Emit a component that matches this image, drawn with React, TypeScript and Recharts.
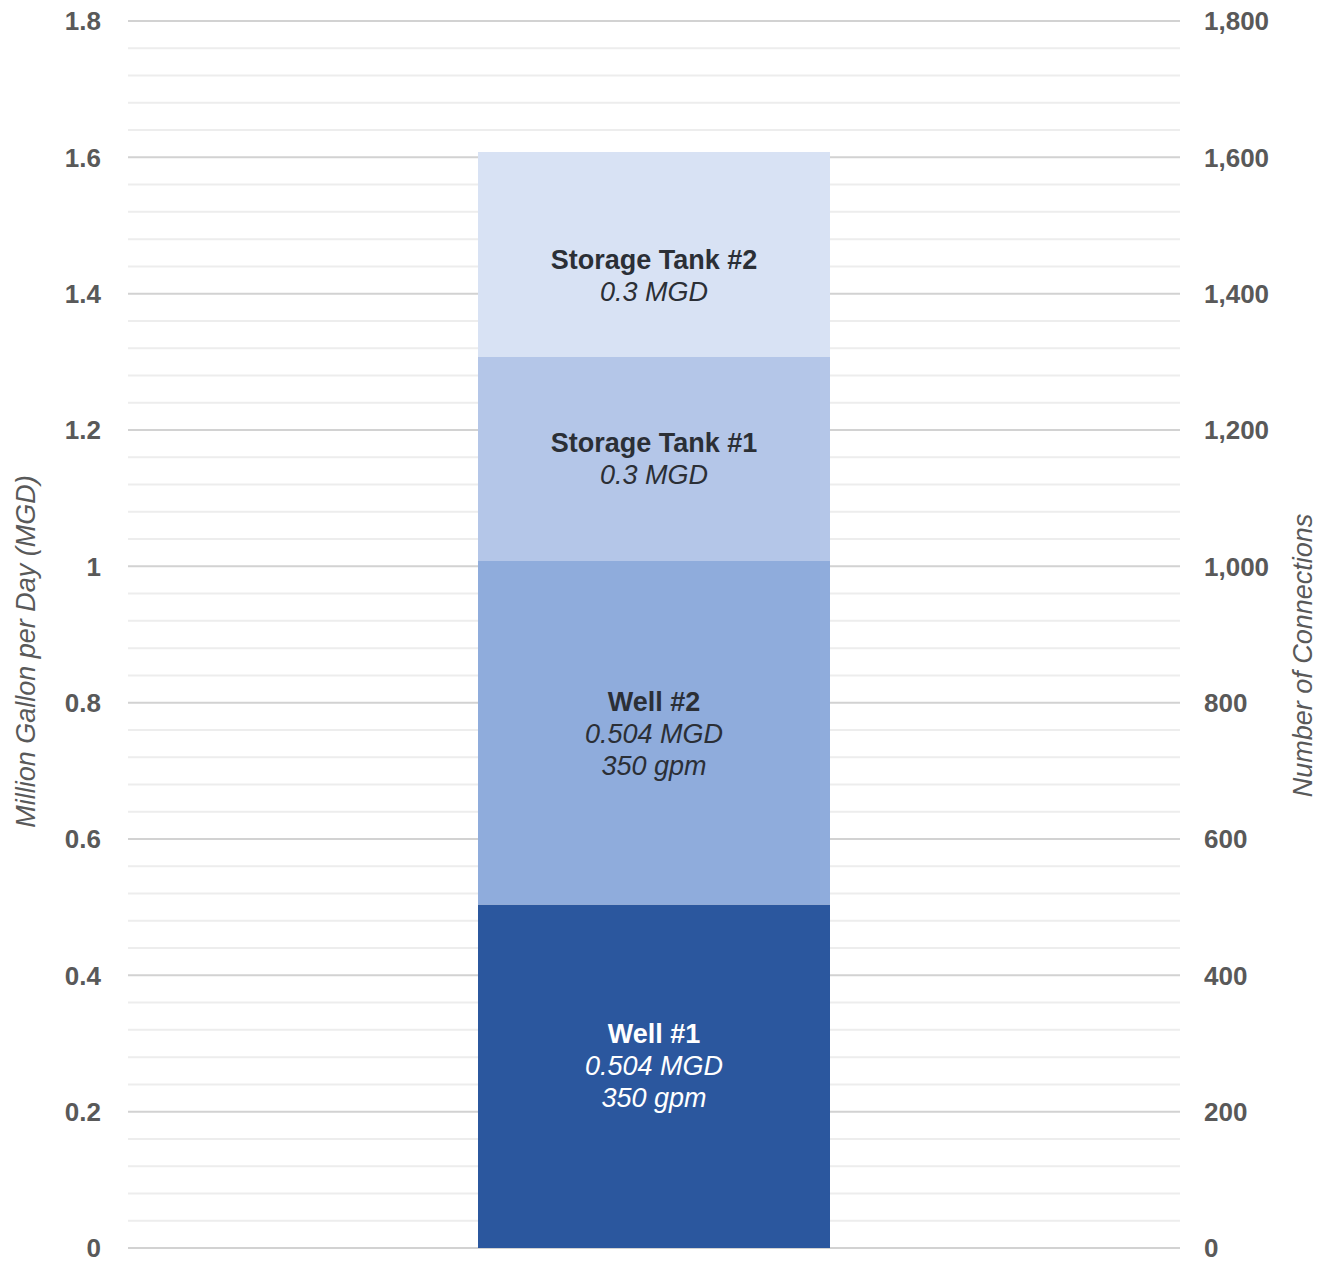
import React from "react";
import { BarChart, Bar, XAxis, YAxis, CartesianGrid, LabelList } from "recharts";

if (typeof document !== "undefined") {
  document.body.style.margin = "0";
}

const categories = ["Supply"];
const seriesNames = ["Well #1", "Well #2", "Storage Tank #1", "Storage Tank #2"];
const seriesKeys = ["well1", "well2", "tank1", "tank2"];
const seriesValues = [0.504, 0.504, 0.3, 0.3];
const seriesGpm = ["350 gpm", "350 gpm", "", ""];
const leftTicks = [0, 0.2, 0.4, 0.6, 0.8, 1, 1.2, 1.4, 1.6, 1.8];
const rightTicks = [0, 200, 400, 600, 800, 1000, 1200, 1400, 1600, 1800];
const minorTicks = [
  0.04, 0.08, 0.12, 0.16, 0.24, 0.28, 0.32, 0.36, 0.44, 0.48, 0.52, 0.56,
  0.64, 0.68, 0.72, 0.76, 0.84, 0.88, 0.92, 0.96, 1.04, 1.08, 1.12, 1.16,
  1.24, 1.28, 1.32, 1.36, 1.44, 1.48, 1.52, 1.56, 1.64, 1.68, 1.72, 1.76,
];

const data = categories.map((name) => {
  const row: any = { name };
  seriesKeys.forEach((k, i) => (row[k] = seriesValues[i]));
  row.connections = null;
  return row;
});

const colors = ["#2B579E", "#8FACDC", "#B4C6E8", "#D8E2F4"];
const textColors = ["#FFFFFF", "#2B2F36", "#2B2F36", "#2B2F36"];
const labelShift = [-10, 1, 0, 22];

const FONT = "'Liberation Sans', Arial, Helvetica, sans-serif";

const makeLabel = (i: number) => (props: any) => {
  const { x, y, width, height } = props;
  const cx = Number(x) + Number(width) / 2;
  const cy = Number(y) + Number(height) / 2 + labelShift[i];
  const lines: { t: string; bold: boolean }[] = [
    { t: seriesNames[i], bold: true },
    { t: `${seriesValues[i]} MGD`, bold: false },
  ];
  if (seriesGpm[i]) lines.push({ t: seriesGpm[i], bold: false });
  const lh = 32;
  const n = lines.length;
  return (
    <g>
      {lines.map((l, j) => (
        <text
          key={j}
          x={cx}
          y={cy + (j - (n - 1) / 2) * lh}
          textAnchor="middle"
          dominantBaseline="central"
          fill={textColors[i]}
          fontFamily={FONT}
          fontSize={27}
          fontWeight={l.bold ? 700 : 400}
          fontStyle={l.bold ? "normal" : "italic"}
        >
          {l.t}
        </text>
      ))}
    </g>
  );
};

const fmtRight = (v: number) => v.toLocaleString("en-US");
const fmtLeft = (v: number) => String(v);

const tickStyle = { fill: "#595959", fontSize: 26, fontWeight: 700, fontFamily: FONT };

export default function App() {
  return (
    <div style={{ width: 1318, height: 1262, background: "#fff" }}>
      <BarChart
        width={1318}
        height={1262}
        data={data}
        barGap={0}
        margin={{ top: 21, right: 0, bottom: 14, left: 0 }}
      >
        <CartesianGrid
          yAxisId="left"
          vertical={false}
          horizontalValues={minorTicks}
          stroke="#EDEDED"
          strokeWidth={2}
        />
        <CartesianGrid
          yAxisId="left"
          vertical={false}
          stroke="#D2D2D2"
          strokeWidth={2}
        />
        <XAxis dataKey="name" hide />
        <YAxis
          yAxisId="left"
          orientation="left"
          width={128}
          domain={[0, 1.8]}
          ticks={leftTicks}
          interval={0}
          tickFormatter={fmtLeft}
          axisLine={false}
          tickLine={false}
          tickSize={0}
          tickMargin={27}
          tick={tickStyle}
          label={{
            content: (p: any) => {
              const vb = p.viewBox || { x: 0, y: 21, width: 128, height: 1227 };
              const tx = vb.x + 26;
              const ty = vb.y + vb.height / 2 + 17;
              return (
                <text
                  x={tx}
                  y={ty}
                  transform={`rotate(-90 ${tx} ${ty})`}
                  textAnchor="middle"
                  dominantBaseline="central"
                  fill="#595959"
                  fontFamily={FONT}
                  fontSize={27}
                  fontStyle="italic"
                >
                  Million Gallon per Day (MGD)
                </text>
              );
            },
          }}
        />
        <YAxis
          yAxisId="right"
          orientation="right"
          width={138}
          type="number"
          domain={[0, 1800]}
          allowDataOverflow
          ticks={rightTicks}
          interval={0}
          tickFormatter={fmtRight}
          axisLine={false}
          tickLine={false}
          tickSize={0}
          tickMargin={24}
          tick={{ ...tickStyle, textAnchor: "start" }}
          label={{
            content: (p: any) => {
              const vb = p.viewBox || { x: 1180, y: 21, width: 138, height: 1227 };
              const tx = vb.x + 123;
              const ty = vb.y + vb.height / 2 + 21;
              return (
                <text
                  x={tx}
                  y={ty}
                  transform={`rotate(-90 ${tx} ${ty})`}
                  textAnchor="middle"
                  dominantBaseline="central"
                  fill="#595959"
                  fontFamily={FONT}
                  fontSize={27}
                  fontStyle="italic"
                >
                  Number of Connections
                </text>
              );
            },
          }}
        />
        {seriesKeys.map((k, i) => (
          <Bar
            key={k}
            yAxisId="left"
            dataKey={k}
            name={seriesNames[i]}
            stackId="a"
            fill={colors[i]}
            barSize={352}
            isAnimationActive={false}
          >
            <LabelList dataKey={k} content={makeLabel(i)} />
          </Bar>
        ))}
        <Bar
          yAxisId="right"
          dataKey="connections"
          fill="transparent"
          barSize={0}
          isAnimationActive={false}
          legendType="none"
        />
      </BarChart>
    </div>
  );
}
